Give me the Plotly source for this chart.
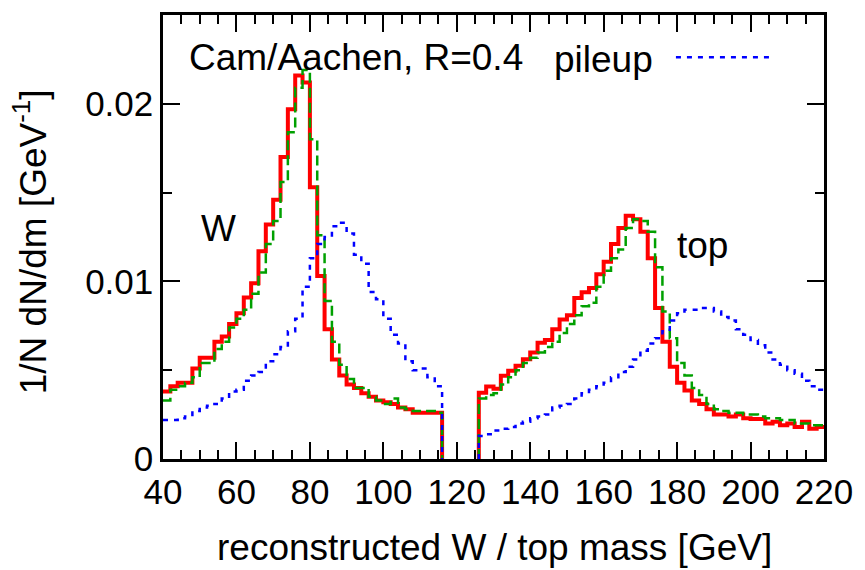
import plotly.graph_objects as go

# Histogram binning (GeV)
BIN = 2
W_LO, W_HI = 40, 116
TOP_LO, TOP_HI = 126, 220

# W-candidate mass distribution, 1/N dN/dm per 2 GeV bin from 40 to 116 GeV
w_red = [0.0038, 0.0041, 0.0043, 0.0043, 0.0051, 0.0057, 0.0057, 0.0066, 0.0069, 0.0076,
         0.0082, 0.0091, 0.0099, 0.0117, 0.0132, 0.0146, 0.0170, 0.0197, 0.0216, 0.0212,
         0.0153, 0.0103, 0.0073, 0.0056, 0.0047, 0.0042, 0.0040, 0.0037, 0.0035, 0.0033,
         0.0032, 0.0031, 0.0029, 0.0028, 0.0026, 0.0026, 0.0026, 0.0026]
w_green = [0.0033, 0.0039, 0.0041, 0.0043, 0.0046, 0.0054, 0.0054, 0.0062, 0.0066, 0.0074,
           0.0079, 0.0084, 0.0093, 0.0105, 0.0121, 0.0134, 0.0156, 0.0184, 0.0209, 0.0219,
           0.0180, 0.0126, 0.0089, 0.0066, 0.0053, 0.0045, 0.0040, 0.0040, 0.0035, 0.0033,
           0.0031, 0.0034, 0.0029, 0.0028, 0.0027, 0.0027, 0.0027, 0.0026]
w_pileup = [0.0022, 0.0022, 0.0023, 0.0024, 0.0027, 0.0029, 0.0030, 0.0031, 0.0034, 0.0038,
            0.0039, 0.0044, 0.0047, 0.0049, 0.0055, 0.0059, 0.0063, 0.0072, 0.0079, 0.0097,
            0.0113, 0.0121, 0.0125, 0.0131, 0.0133, 0.0127, 0.0115, 0.0110, 0.0094, 0.0090,
            0.0079, 0.0070, 0.0065, 0.0055, 0.0050, 0.0051, 0.0046, 0.0041]

# top-candidate mass distribution, 2 GeV bins from 126 to 220 GeV
top_red = [0.00373, 0.00408, 0.00395, 0.00469, 0.00497, 0.00525, 0.00562, 0.0060, 0.00655, 0.0067,
           0.0073, 0.00786, 0.0081, 0.00907, 0.00939, 0.00963, 0.0104, 0.0111, 0.0121, 0.0130,
           0.0137, 0.0135, 0.0128, 0.0113, 0.0085, 0.0066, 0.0052, 0.0043, 0.00385, 0.0033,
           0.0031, 0.0028, 0.0025, 0.0025, 0.0024, 0.0025, 0.0023, 0.00225, 0.00225, 0.0020,
           0.0021, 0.0019, 0.0020, 0.0018, 0.0021, 0.0017, 0.0018]
top_green = [0.0034, 0.0036, 0.0037, 0.0042, 0.0046, 0.0050, 0.0054, 0.0057, 0.0060, 0.0063,
             0.0066, 0.0071, 0.0076, 0.0081, 0.0086, 0.0088, 0.0097, 0.0106, 0.0113, 0.0118,
             0.0130, 0.0135, 0.0134, 0.0128, 0.0108, 0.0083, 0.0068, 0.0054, 0.0047, 0.0040,
             0.0036, 0.0031, 0.0028, 0.0027, 0.0026, 0.0026, 0.0025, 0.0025, 0.0024, 0.0023,
             0.0023, 0.0022, 0.0022, 0.0020, 0.0020, 0.0019, 0.0019]
top_pileup = [0.0013, 0.0014, 0.0016, 0.0017, 0.0018, 0.0020, 0.0021, 0.0023, 0.0024, 0.0025,
              0.0029, 0.0030, 0.0031, 0.0034, 0.0037, 0.0039, 0.0041, 0.0043, 0.0046, 0.0049,
              0.0052, 0.0056, 0.0061, 0.0065, 0.0068, 0.0072, 0.0078, 0.0082, 0.0084, 0.0084,
              0.0085, 0.0085, 0.0083, 0.0080, 0.0078, 0.0073, 0.0070, 0.0067, 0.0064, 0.0060,
              0.0056, 0.0053, 0.0050, 0.0048, 0.0044, 0.0041, 0.0039]

x_ticks = [40, 60, 80, 100, 120, 140, 160, 180, 200, 220]
y_ticks = [0, 0.01, 0.02]
y_ticktext = ["0", "0.01", "0.02"]

FONT = "Liberation Sans, Arial, Helvetica, sans-serif"


def step_path(lo, hi, vals, rise_from_zero, drop_to_zero):
    """Vertices of a histogram outline for line_shape='hv'."""
    xs = [lo + BIN * i for i in range(len(vals))] + [hi]
    ys = list(vals) + [vals[-1]]
    if rise_from_zero:
        xs = [lo] + xs
        ys = [0] + ys
    if drop_to_zero:
        xs = xs + [hi]
        ys = ys + [0]
    return xs, ys


def two_windows(w_vals, t_vals):
    xw, yw = step_path(W_LO, W_HI, w_vals, False, True)
    xt, yt = step_path(TOP_LO, TOP_HI, t_vals, True, False)
    return xw + [None] + xt, yw + [None] + yt


fig = go.Figure()

series = [
    ("hadron level", w_red, top_red, dict(color="#ff0000", width=4)),
    ("parton level", w_green, top_green, dict(color="#00a000", width=2.5, dash="10px,5px")),
    ("pileup", w_pileup, top_pileup, dict(color="#0000ff", width=2.5, dash="5px,6px")),
]
for name, wv, tv, line in series:
    x, y = two_windows(wv, tv)
    fig.add_trace(go.Scatter(x=x, y=y, mode="lines", line_shape="hv", line=line,
                             name=name, showlegend=False, connectgaps=False))

axis_common = dict(
    showline=True, linecolor="black", linewidth=2.5, mirror="allticks",
    ticks="inside", ticklen=17, tickwidth=2, tickcolor="black",
    showgrid=False, zeroline=False,
    tickfont=dict(family=FONT, size=35, color="black"),
)

fig.update_xaxes(range=[40, 220], tickvals=x_ticks,
                 minor=dict(dtick=5, ticks="inside", ticklen=9, tickwidth=2, tickcolor="black"),
                 **axis_common)
fig.update_yaxes(range=[0, 0.025], tickvals=y_ticks, ticktext=y_ticktext,
                 minor=dict(dtick=0.005, ticks="inside", ticklen=9, tickwidth=2, tickcolor="black"),
                 **axis_common)

txt = dict(family=FONT, size=37, color="black")
annotations = [
    dict(text="reconstructed W / top mass [GeV]", x=0.502, y=-0.199, xref="paper", yref="paper",
         xanchor="center", yanchor="middle", showarrow=False, font=txt),
    dict(text="1/N dN/dm [GeV<sup>-1</sup>]", x=-0.2, y=0.49, xref="paper", yref="paper",
         xanchor="center", yanchor="middle", textangle=-90, showarrow=False, font=txt),
    dict(text="Cam/Aachen, R=0.4", x=0.036, y=0.904, xref="paper", yref="paper",
         xanchor="left", yanchor="middle", showarrow=False, font=txt),
    dict(text="pileup", x=0.744, y=0.899, xref="paper", yref="paper",
         xanchor="right", yanchor="middle", showarrow=False, font=txt),
    dict(text="W", x=55.2, y=0.0130, xref="x", yref="y",
         xanchor="center", yanchor="middle", showarrow=False, font=txt),
    dict(text="top", x=187, y=0.0120, xref="x", yref="y",
         xanchor="center", yanchor="middle", showarrow=False, font=txt),
]

fig.update_layout(
    width=865, height=570,
    margin=dict(l=163, r=37, t=12, b=111),
    paper_bgcolor="white", plot_bgcolor="white",
    annotations=annotations,
    shapes=[dict(type="line", xref="paper", yref="paper", x0=0.776, x1=0.92, y0=0.905, y1=0.905,
                 line=dict(color="#0000ff", width=2.5, dash="5px,6px"))],
)

fig.write_html("out.html")
